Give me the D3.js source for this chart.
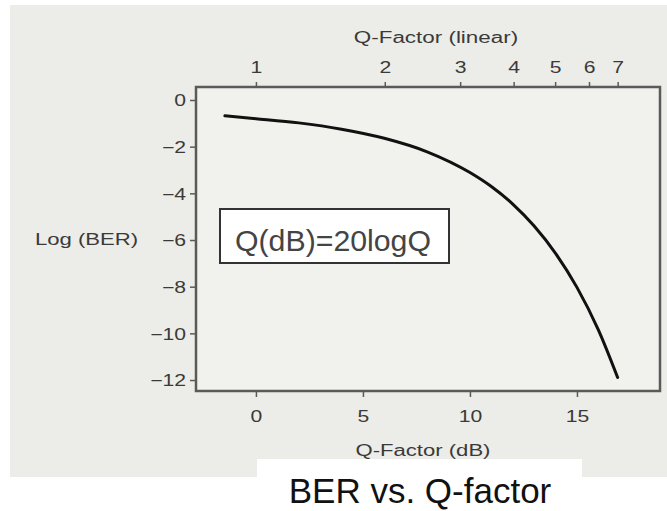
<!DOCTYPE html>
<html>
<head>
<meta charset="utf-8">
<script src="https://cdn.jsdelivr.net/npm/d3@7"></script>
<style>
  html,body{margin:0;padding:0;background:#fff;}
  svg{display:block;font-family:"Liberation Sans",Arial,sans-serif;}
</style>
</head>
<body>
<svg id="chart" width="667" height="511"></svg>
<script>
// values
var qdB    = [-1.45, 0, 2, 4, 6, 8, 10, 11, 12, 13, 14, 15, 16, 16.9];
var logBER = [-0.68, -0.8, -0.98, -1.25, -1.64, -2.22, -3.11, -3.71, -4.46, -5.4, -6.57, -8.03, -9.85, -11.89];
var bottomTicks = [0, 5, 10, 15];
var leftTicks   = [0, -2, -4, -6, -8, -10, -12];
var topTicks    = [1, 2, 3, 4, 5, 6, 7];

var svg = d3.select('#chart');
var ml = 196, mt = 87, pw = 464, ph = 304;
var ink = '#3a3a3a';

// page background (scanned slide look)
svg.append('rect').attr('x', 10).attr('y', 5).attr('width', 657).attr('height', 472).attr('fill', '#ecece8');
svg.append('rect').attr('x', 257).attr('y', 459).attr('width', 325).attr('height', 52).attr('fill', '#fff');

var x = d3.scaleLinear().domain([-2.8, 18.88]).range([ml, ml + pw]);
var y = d3.scaleLinear().domain([0.557, -12.47]).range([mt, mt + ph]);
var xTop = d3.scaleLog().domain([Math.pow(10, -2.8 / 20), Math.pow(10, 18.88 / 20)]).range([ml, ml + pw]);

svg.append('rect').attr('x', ml).attr('y', mt).attr('width', pw).attr('height', ph)
  .attr('fill', '#f1f1ee').attr('stroke', '#5a5a5a').attr('stroke-width', 2.5);

function widen(sel, k) {
  sel.each(function () {
    var w = this.getComputedTextLength();
    d3.select(this).attr('textLength', w * k).attr('lengthAdjust', 'spacingAndGlyphs');
  });
}

function styleAxis(g) {
  g.select('.domain').remove();
  g.selectAll('.tick line').attr('stroke', '#5a5a5a').attr('stroke-width', 1.5);
  g.selectAll('.tick text').attr('fill', ink).attr('font-size', '16px')
    .attr('font-family', '"Liberation Sans",Arial,sans-serif');
}

var gb = svg.append('g').attr('transform', 'translate(0,' + (mt + ph) + ')')
  .call(d3.axisBottom(x).tickValues(bottomTicks).tickSize(6).tickPadding(14).tickFormat(d3.format('d')));
styleAxis(gb);

var gl = svg.append('g').attr('transform', 'translate(' + ml + ',0)')
  .call(d3.axisLeft(y).tickValues(leftTicks).tickSize(6).tickPadding(4).tickFormat(d3.format('d')));
styleAxis(gl);
gl.selectAll('.tick text').attr('dy', '0.36em');

var gt = svg.append('g').attr('transform', 'translate(0,' + mt + ')')
  .call(d3.axisTop(xTop).tickValues(topTicks).tickSize(5).tickPadding(9).tickFormat(d3.format('d')));
styleAxis(gt);

widen(svg.selectAll('.tick text'), 1.32);

// axis titles
var t1 = svg.append('text').attr('x', 436).attr('y', 43).attr('text-anchor', 'middle')
  .attr('fill', ink).attr('font-size', '16px').text('Q-Factor (linear)');
var t2 = svg.append('text').attr('x', 423).attr('y', 456).attr('text-anchor', 'middle')
  .attr('fill', ink).attr('font-size', '16px').text('Q-Factor (dB)');
var t3 = svg.append('text').attr('x', 35).attr('y', 245)
  .attr('fill', ink).attr('font-size', '17px').text('Log (BER)');
widen(t1, 1.4); widen(t2, 1.38); widen(t3, 1.3);

// curve
var pts = qdB.map(function (d, i) { return [d, logBER[i]]; });
var line = d3.line().x(function (d) { return x(d[0]); }).y(function (d) { return y(d[1]); })
  .curve(d3.curveMonotoneX);
svg.append('path').datum(pts).attr('d', line).attr('fill', 'none')
  .attr('stroke', '#111').attr('stroke-width', 3).attr('stroke-linecap', 'round');

// formula box
svg.append('rect').attr('x', 220).attr('y', 209).attr('width', 229).attr('height', 54)
  .attr('fill', '#fff').attr('stroke', '#333').attr('stroke-width', 2);
svg.append('text').attr('x', 235).attr('y', 251).attr('fill', '#444').attr('font-size', '29px')
  .attr('textLength', 196).attr('lengthAdjust', 'spacingAndGlyphs').text('Q(dB)=20logQ');

// slide title
svg.append('text').attr('x', 420).attr('y', 503).attr('text-anchor', 'middle')
  .attr('fill', '#111').attr('font-size', '35px').text('BER vs. Q-factor');
</script>
</body>
</html>
